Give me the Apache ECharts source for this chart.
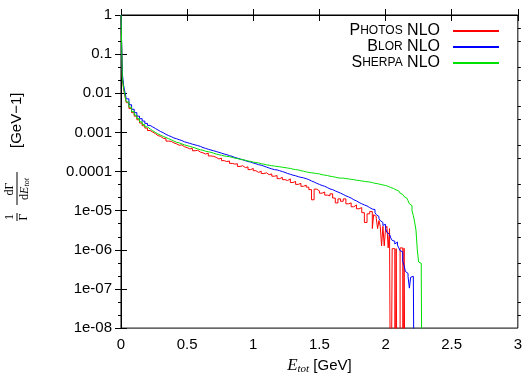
<!DOCTYPE html>
<html>
<head>
<meta charset="utf-8">
<script src="https://cdn.jsdelivr.net/npm/echarts@6/dist/echarts.min.js"></script>
<style>html,body{margin:0;padding:0;background:#fff}#chart{width:525px;height:380px}</style>
</head>
<body>
<div id="chart"></div>
<script>
// Bin lower edges (GeV)
const energies = [0,0.01,0.02,0.03,
0.04,0.06,0.08,0.10,0.12,0.14,0.16,0.18,0.20,0.22,0.24,0.26,0.28,0.30,0.32,0.34,0.36,0.38,0.40,0.42,0.44,0.46,0.48,0.50,0.52,0.54,0.56,0.58,0.60,0.62,0.64,0.66,0.68,0.70,0.72,0.74,0.76,0.78,0.80,0.82,0.84,0.86,0.88,0.90,0.92,0.94,0.96,0.98,1.00,1.02,1.04,1.06,1.08,1.10,1.12,1.14,1.16,1.18,1.20,1.22,1.24,1.26,1.28,1.30,1.32,1.34,1.36,1.38,1.40,1.42,1.44,1.46,1.48,1.50,1.52,1.54,1.56,1.58,1.60,1.62,1.64,1.66,1.68,1.70,1.72,1.74,1.76,1.78,1.80,1.82,1.84,1.86,1.88,
1.90,1.91,1.92,1.93,1.94,1.95,1.96,1.97,1.98,1.99,2.00,2.01,2.02,2.03,2.04,2.05,2.06,2.07,2.08,2.09,2.10,2.11,2.12,2.13,2.14,2.15,2.16,2.17,2.18,2.19,2.20,2.21,2.22,2.23,2.24,2.25,2.26,2.27,2.28,2.29,2.30];

const photosNLO = [0.95,0.024,0.0126,0.0083,
5.75e-3,4.1e-3,3.2e-3,2.6e-3,2.1e-3,1.74e-3,1.48e-3,1.29e-3,1.12e-3,1.02e-3,9.3e-4,8.3e-4,7.9e-4,7.1e-4,6.9e-4,6.0e-4,5.9e-4,5.4e-4,5.1e-4,4.7e-4,4.8e-4,4.3e-4,4.1e-4,3.8e-4,3.9e-4,3.4e-4,3.5e-4,3.15e-4,3.0e-4,2.8e-4,2.95e-4,2.5e-4,2.45e-4,2.3e-4,2.1e-4,2.2e-4,1.9e-4,1.8e-4,1.86e-4,1.62e-4,1.55e-4,1.58e-4,1.35e-4,1.41e-4,1.26e-4,1.32e-4,1.12e-4,1.2e-4,1.05e-4,9.5e-5,1.02e-4,8.9e-5,9.3e-5,8.3e-5,8.7e-5,7.6e-5,7.9e-5,6.6e-5,7.1e-5,6.2e-5,5.9e-5,6.5e-5,5.25e-5,5.6e-5,4.7e-5,5.0e-5,4.2e-5,4.5e-5,4.0e-5,3.45e-5,1.9e-5,3.55e-5,3.2e-5,2.8e-5,3.0e-5,2.5e-5,2.4e-5,2.7e-5,2.1e-5,1.58e-5,2.0e-5,1.74e-5,2.0e-5,1.5e-5,1.58e-5,1.26e-5,1.4e-5,1.12e-5,1.2e-5,8.9e-6,5.0e-6,8.3e-6,9.5e-6,
3.5e-6,7.9e-6,7.1e-6,6.3e-6,3.5e-6,5.6e-6,4.0e-6,1.26e-6,4.0e-6,1.26e-6,
3.5e-6,4.0e-6,1.12e-6,3.5e-6,0,1.07e-6,1.07e-6,0,1.07e-6,0,
0,1.12e-6,1.12e-6,0,1.1e-6,0,0,0,0,0,
0,0,0,0,0,0,0,0,0,0,
0];

const blorNLO = [1.0,0.032,0.0158,0.0105,
7.2e-3,5.1e-3,3.9e-3,3.2e-3,2.6e-3,2.24e-3,1.95e-3,1.7e-3,1.51e-3,1.38e-3,1.26e-3,1.15e-3,1.05e-3,9.8e-4,8.9e-4,8.3e-4,7.8e-4,7.2e-4,6.9e-4,6.5e-4,6.2e-4,5.75e-4,5.5e-4,5.25e-4,5.0e-4,4.8e-4,4.6e-4,4.4e-4,4.1e-4,3.9e-4,3.7e-4,3.55e-4,3.4e-4,3.25e-4,3.1e-4,2.95e-4,2.8e-4,2.7e-4,2.55e-4,2.45e-4,2.3e-4,2.2e-4,2.1e-4,2.0e-4,1.9e-4,1.8e-4,1.75e-4,1.65e-4,1.58e-4,1.5e-4,1.45e-4,1.38e-4,1.3e-4,1.23e-4,1.17e-4,1.12e-4,1.1e-4,1.05e-4,1.0e-4,9.5e-5,8.9e-5,8.5e-5,8.1e-5,7.8e-5,7.4e-5,7.1e-5,6.9e-5,6.6e-5,6.2e-5,5.75e-5,5.4e-5,5.0e-5,4.7e-5,4.4e-5,4.2e-5,3.9e-5,3.6e-5,3.45e-5,3.2e-5,3.0e-5,2.8e-5,2.6e-5,2.4e-5,2.25e-5,2.1e-5,1.9e-5,1.78e-5,1.62e-5,1.5e-5,1.4e-5,1.32e-5,1.2e-5,1.1e-5,
1.0e-5,1.07e-5,8.9e-6,7.9e-6,7.1e-6,6.3e-6,5.6e-6,5.0e-6,4.2e-6,4.5e-6,
3.5e-6,2.8e-6,2.5e-6,2.4e-6,2.0e-6,1.74e-6,1.66e-6,1.41e-6,1.58e-6,1.32e-6,
1.12e-6,9.5e-7,8.9e-7,5.0e-7,4.0e-7,2.8e-7,2.5e-7,2.1e-7,1.05e-7,2.0e-7,
2.1e-7,2.1e-7,0,0,0,0,0,0,0,0,
0];

const sherpaNLO = [1.0,0.025,0.0132,0.0089,
6.0e-3,4.4e-3,3.4e-3,2.75e-3,2.24e-3,1.86e-3,1.58e-3,1.38e-3,1.23e-3,1.10e-3,1.0e-3,9.1e-4,8.5e-4,7.9e-4,7.4e-4,6.9e-4,6.5e-4,6.0e-4,5.6e-4,5.4e-4,5.1e-4,4.8e-4,4.6e-4,4.4e-4,4.2e-4,4.0e-4,3.8e-4,3.6e-4,3.5e-4,3.3e-4,3.2e-4,3.1e-4,2.95e-4,2.8e-4,2.7e-4,2.6e-4,2.5e-4,2.45e-4,2.4e-4,2.3e-4,2.2e-4,2.15e-4,2.05e-4,2.0e-4,1.95e-4,1.86e-4,1.82e-4,1.74e-4,1.7e-4,1.66e-4,1.58e-4,1.55e-4,1.48e-4,1.45e-4,1.41e-4,1.38e-4,1.35e-4,1.32e-4,1.29e-4,1.26e-4,1.23e-4,1.2e-4,1.15e-4,1.12e-4,1.1e-4,1.05e-4,1.02e-4,9.8e-5,9.5e-5,9.3e-5,9.1e-5,8.9e-5,8.7e-5,8.3e-5,8.1e-5,7.9e-5,7.6e-5,7.4e-5,7.2e-5,6.9e-5,6.8e-5,6.8e-5,6.6e-5,6.5e-5,6.3e-5,6.2e-5,6.0e-5,5.9e-5,5.75e-5,5.6e-5,5.5e-5,5.4e-5,5.25e-5,
5.1e-5,5.0e-5,5.0e-5,4.9e-5,4.8e-5,4.7e-5,4.6e-5,4.55e-5,4.5e-5,4.4e-5,
4.3e-5,4.2e-5,4.0e-5,3.9e-5,3.8e-5,3.7e-5,3.5e-5,3.4e-5,3.2e-5,3.2e-5,
3.1e-5,2.8e-5,2.6e-5,2.5e-5,2.3e-5,2.1e-5,1.9e-5,1.8e-5,1.5e-5,1.35e-5,
1.0e-5,7.5e-6,5.1e-6,3.2e-6,1.0e-6,4.9e-7,4.5e-7,2.0e-7,0,0,
0];

const seriesNames = ['Photos NLO', 'Blor NLO', 'Sherpa NLO'];
const xTickLabels = ['0', '0.5', '1', '1.5', '2', '2.5', '3'];
const yTickLabels = ['1', '0.1', '0.01', '0.001', '0.0001', '1e-05', '1e-06', '1e-07', '1e-08'];

const FONT = 'Liberation Sans';
const colors = ['#ff0000', '#0000ff', '#00e000'];

function toPairs(vals) {
  const n = Math.min(vals.length, energies.length);
  const out = [];
  for (let i = 0; i < n; i++) out.push([energies[i], vals[i] > 0 ? vals[i] : 1e-12]);
  return out;
}

const chart = echarts.init(document.getElementById('chart'), null, {renderer: 'canvas'});

const tickStyle = {show: true, inside: true, length: 6, lineStyle: {color: '#000', width: 1}};
const lineAxis = {show: true, lineStyle: {color: '#000', width: 1}};
// decade-exponent axes used only to place minor ticks inside each decade
const minorAxis = function (pos) {
  return {
    type: 'value', min: -8, max: 0, interval: 1, position: pos, offset: 0,
    axisLine: {show: false}, axisTick: {show: false}, axisLabel: {show: false}, splitLine: {show: false},
    minorTick: {show: true, splitNumber: 3, length: 3, lineStyle: {color: '#000', width: 1}}
  };
};

chart.setOption({
  animation: false,
  backgroundColor: '#fff',
  grid: {left: 121, right: 7, top: 15, bottom: 50, show: true, borderColor: '#000', borderWidth: 1, backgroundColor: 'transparent'},
  legend: {
    orient: 'vertical', right: 20, top: 18, align: 'right',
    itemWidth: 46, itemHeight: 14, itemGap: 0,
    data: seriesNames,
    itemStyle: {opacity: 0},
    formatter: function (name) {
      const parts = name.split(' ');
      const w = parts[0];
      return '{c|' + w[0] + '}{s|' + w.slice(1).toUpperCase() + '}{c| ' + parts.slice(1).join(' ') + '}';
    },
    textStyle: {
      fontFamily: FONT, color: '#000', padding: [0, 8, 0, 0],
      rich: {c: {fontFamily: FONT, fontSize: 16, lineHeight: 14, color: '#000'},
             s: {fontFamily: FONT, fontSize: 12, lineHeight: 14, color: '#000'}}
    }
  },
  xAxis: [{
    type: 'value', min: 0, max: 3, interval: 0.5, position: 'bottom',
    axisLine: lineAxis, axisTick: tickStyle, splitLine: {show: false},
    axisLabel: {margin: 9, fontFamily: FONT, fontSize: 15, color: '#000',
      formatter: function (v) { return xTickLabels[Math.round(v / 0.5)]; }},
    name: '{i|E}{t|tot}{n| [GeV]}', nameLocation: 'middle', nameGap: 26,
    nameTextStyle: {rich: {
      i: {fontFamily: 'Liberation Serif', fontStyle: 'italic', fontSize: 17, color: '#000'},
      t: {fontFamily: 'Liberation Serif', fontStyle: 'italic', fontSize: 11, color: '#000', padding: [8, 0, 0, 0]},
      n: {fontFamily: FONT, fontSize: 15, color: '#000'}
    }}
  }, {
    type: 'value', min: 0, max: 3, interval: 0.5, position: 'top',
    axisLine: lineAxis, axisTick: tickStyle, splitLine: {show: false}, axisLabel: {show: false}
  }],
  yAxis: [{
    type: 'log', logBase: 10, min: 1e-8, max: 1, interval: 1,
    axisLine: lineAxis, axisTick: tickStyle, splitLine: {show: false},
    axisLabel: {margin: 9, fontFamily: FONT, fontSize: 15, color: '#000',
      formatter: function (v) { return yTickLabels[-Math.round(Math.log10(v))]; }}
  }, {
    type: 'log', logBase: 10, min: 1e-8, max: 1, interval: 1, position: 'right',
    axisLine: lineAxis, axisTick: tickStyle, splitLine: {show: false},
    axisLabel: {show: false}
  }, minorAxis('left'), minorAxis('right')],
  series: [
    {name: seriesNames[0], type: 'line', step: 'end', symbol: 'none', clip: true, data: toPairs(photosNLO),
     lineStyle: {color: colors[0], width: 1}, itemStyle: {color: colors[0]}},
    {name: seriesNames[1], type: 'line', step: 'end', symbol: 'none', clip: true, data: toPairs(blorNLO),
     lineStyle: {color: colors[1], width: 1}, itemStyle: {color: colors[1]}},
    {name: seriesNames[2], type: 'line', step: 'end', symbol: 'none', clip: true, data: toPairs(sherpaNLO),
     lineStyle: {color: colors[2], width: 1}, itemStyle: {color: colors[2]}}
  ],
  graphic: [{
    type: 'group', x: 17, y: 160, rotation: Math.PI / 2,
    children: [
      {type: 'text', x: -57, y: -1, style: {text: '1', fontFamily: 'Liberation Serif', fontSize: 12, fill: '#000', align: 'center', verticalAlign: 'bottom'}},
      {type: 'line', shape: {x1: -61, y1: 0, x2: -53, y2: 0}, style: {stroke: '#000', lineWidth: 1}},
      {type: 'text', x: -57, y: 1, style: {text: 'Γ', fontFamily: 'Liberation Serif', fontSize: 12, fill: '#000', align: 'center', verticalAlign: 'top'}},
      {type: 'text', x: -29, y: -1, style: {text: 'dΓ', fontFamily: 'Liberation Serif', fontSize: 12, fill: '#000', align: 'center', verticalAlign: 'bottom'}},
      {type: 'line', shape: {x1: -45, y1: 0, x2: -12, y2: 0}, style: {stroke: '#000', lineWidth: 1}},
      {type: 'text', x: -29, y: 1, style: {text: '{r|d}{i|E}{s|tot}', align: 'center', verticalAlign: 'top',
        rich: {r: {fontFamily: 'Liberation Serif', fontSize: 12, fill: '#000'},
               i: {fontFamily: 'Liberation Serif', fontStyle: 'italic', fontSize: 12, fill: '#000'},
               s: {fontFamily: 'Liberation Serif', fontStyle: 'italic', fontSize: 8, fill: '#000', padding: [5, 0, 0, 0]}}}},
      {type: 'text', x: 12, y: 0, style: {text: '[GeV−1]', fontFamily: FONT, fontSize: 15, fill: '#000', align: 'left', verticalAlign: 'middle'}}
    ]
  }]
});
</script>
</body>
</html>
